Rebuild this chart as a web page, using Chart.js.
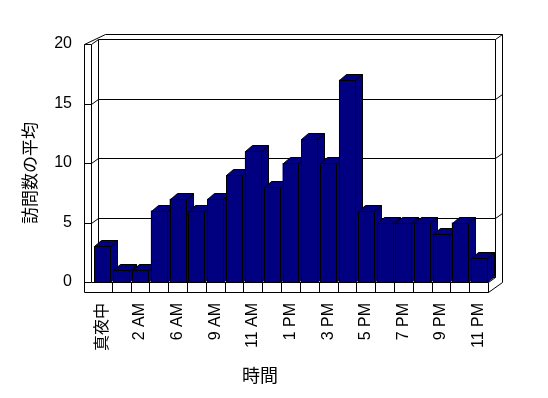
<!DOCTYPE html>
<html lang="ja">

<head>
    <meta charset="UTF-8">
    <title>訪問数の平均</title>
    <script src="https://cdn.jsdelivr.net/npm/chart.js"></script>
    <style>
        body { margin: 0; background: #ffffff; }
    </style>
</head>

<body>
    <canvas id="grafico" width="548" height="398"></canvas>
</body>

</html>

<script>
// horas (so metade aparece no eixo)
const horas = [
    '真夜中', '1 AM', '2 AM', '5 AM', '6 AM', '8 AM', '9 AM', '10 AM', '11 AM', '正午',
    '1 PM', '2 PM', '3 PM', '4 PM', '5 PM', '6 PM', '7 PM', '8 PM', '9 PM', '10 PM', '11 PM'
];
const visitas = [3, 1, 1, 6, 7, 6, 7, 9, 11, 8, 10, 12, 10, 17, 6, 5, 5, 5, 4, 5, 2];
const yTicks = [0, 5, 10, 15, 20];

const tituloY = '訪問数の平均';
const tituloX = '時間';

const fonte = "'Liberation Sans', 'Noto Sans CJK JP', sans-serif";
const azul = '#000080';

// profundidade das barras e das paredes
const prof = { dx: 7, dy: -6 };
const parede = { dx: 7, dy: -5 };

function linha(ctx, x1, y1, x2, y2) {
    ctx.beginPath();
    ctx.moveTo(Math.round(x1) + 0.5, Math.round(y1) + 0.5);
    ctx.lineTo(Math.round(x2) + 0.5, Math.round(y2) + 0.5);
    ctx.stroke();
}

function poligono(ctx, pts) {
    ctx.beginPath();
    pts.forEach((p, i) => {
        const px = Math.round(p[0]) + 0.5, py = Math.round(p[1]) + 0.5;
        if (i === 0) ctx.moveTo(px, py); else ctx.lineTo(px, py);
    });
    ctx.closePath();
    ctx.fill();
    ctx.stroke();
}

const fundo3d = {
    id: 'fundo3d',
    beforeDatasetsDraw(chart) {
        const ctx = chart.ctx;
        const ca = chart.chartArea;
        const ys = chart.scales.y;
        const xs = chart.scales.x;
        const L = Math.round(ca.left), R = Math.round(ca.right);
        const T = Math.round(ca.top), B = Math.round(ca.bottom);
        const dx = parede.dx, dy = parede.dy;
        const sl = L - 9, si = L - 2; // laje esquerda
        const chao = B + 10;

        ctx.save();
        ctx.strokeStyle = '#000000';
        ctx.lineWidth = 1;

        // laje esquerda
        linha(ctx, sl, T, sl, chao);
        linha(ctx, si, T, si, B);
        linha(ctx, sl, T, si, T);
        linha(ctx, sl, T, si + 2 * dx, T + 2 * dy);
        linha(ctx, si, T, si + dx, T + dy);

        // parede do fundo
        linha(ctx, si + 2 * dx, T + 2 * dy, R + 2 * dx, T + 2 * dy);
        linha(ctx, si + dx, T + dy, R + dx, T + dy);
        linha(ctx, R + dx, T + dy, R + 2 * dx, T + 2 * dy);
        linha(ctx, R + 2 * dx, T + 2 * dy, R + 2 * dx, B);
        linha(ctx, R + dx, T + dy, R + dx, B + dy);
        linha(ctx, si + dx, T + dy, si + dx, B + dy);
        linha(ctx, si + dx, B + dy, R + dx, B + dy);

        // linhas de grade
        yTicks.forEach(v => {
            if (v === 0 || v === 20) return;
            const y = Math.round(ys.getPixelForValue(v));
            linha(ctx, sl, y, si, y);
            linha(ctx, si, y, si + dx, y + dy);
            linha(ctx, si + dx, y + dy, R + dx, y + dy);
            linha(ctx, R + dx, y + dy, R + 2 * dx, y + 2 * dy);
        });

        // chao
        linha(ctx, sl, B, si, B);
        linha(ctx, si, B, R, B);
        linha(ctx, sl, chao, R, chao);
        linha(ctx, R, B, R, chao);
        linha(ctx, R, B, R + dx, B + dy);
        linha(ctx, R, chao, R + 2 * dx, B);
        for (let i = 1; i < horas.length; i++) {
            const x = (xs.getPixelForValue(i - 1) + xs.getPixelForValue(i)) / 2;
            linha(ctx, x, B, x, chao);
        }

        // faces de cima e do lado das barras
        ctx.fillStyle = azul;
        const meta = chart.getDatasetMeta(0);
        meta.data.forEach(bar => {
            const esq = bar.x - bar.width / 2;
            const dir = bar.x + bar.width / 2;
            poligono(ctx, [[dir, bar.y], [dir + prof.dx, bar.y + prof.dy],
                [dir + prof.dx, bar.base + prof.dy], [dir, bar.base]]);
            poligono(ctx, [[esq, bar.y], [esq + prof.dx, bar.y + prof.dy],
                [dir + prof.dx, bar.y + prof.dy], [dir, bar.y]]);
        });

        ctx.restore();
    },
    afterDatasetsDraw(chart) {
        // contorno nitido da frente das barras
        const ctx = chart.ctx;
        ctx.save();
        ctx.strokeStyle = '#000000';
        ctx.fillStyle = azul;
        chart.getDatasetMeta(0).data.forEach(bar => {
            const esq = bar.x - bar.width / 2;
            const dir = bar.x + bar.width / 2;
            poligono(ctx, [[esq, bar.y], [dir, bar.y], [dir, bar.base], [esq, bar.base]]);
        });
        ctx.restore();
    },
    afterDraw(chart) {
        const ctx = chart.ctx;
        ctx.save();
        ctx.fillStyle = '#000000';
        ctx.textAlign = 'center';
        ctx.textBaseline = 'middle';
        ctx.font = "17px " + fonte;
        ctx.translate(31, 173);
        ctx.rotate(-Math.PI / 2);
        ctx.fillText(tituloY, 0, 0);
        ctx.restore();

        ctx.save();
        ctx.fillStyle = '#000000';
        ctx.textAlign = 'center';
        ctx.textBaseline = 'middle';
        ctx.font = "18px " + fonte;
        ctx.fillText(tituloX, 260, 377);
        ctx.restore();
    }
};

const data = {
    labels: horas,
    datasets: [{
        data: visitas,
        backgroundColor: azul,
        borderColor: '#000000',
        borderWidth: 0,
        barPercentage: 0.92,
        categoryPercentage: 0.92
    }]
};

const config = {
    type: 'bar',
    data: data,
    options: {
        responsive: false,
        animation: false,
        layout: {
            padding: { top: 44, right: 60, left: 0, bottom: 0 }
        },
        plugins: {
            legend: { display: false },
            tooltip: { enabled: false }
        },
        scales: {
            x: {
                grid: { display: false, drawTicks: false },
                border: { display: false },
                ticks: {
                    color: '#000000',
                    font: { size: 16, family: fonte },
                    autoSkip: false,
                    minRotation: 90,
                    maxRotation: 90,
                    padding: 21,
                    callback: function (val, index) {
                        return index % 2 === 0 ? this.getLabelForValue(val) : '';
                    }
                },
                afterFit: function (scale) {
                    scale.height = 116;
                }
            },
            y: {
                min: 0,
                max: 20,
                grid: { display: false, drawTicks: false },
                border: { display: false },
                ticks: {
                    stepSize: 5,
                    color: '#000000',
                    font: { size: 16, family: fonte },
                    padding: 21
                },
                afterFit: function (scale) {
                    scale.width = 93;
                }
            }
        }
    },
    plugins: [fundo3d]
};

let grafico = new Chart(
    document.getElementById('grafico'),
    config
);
</script>
